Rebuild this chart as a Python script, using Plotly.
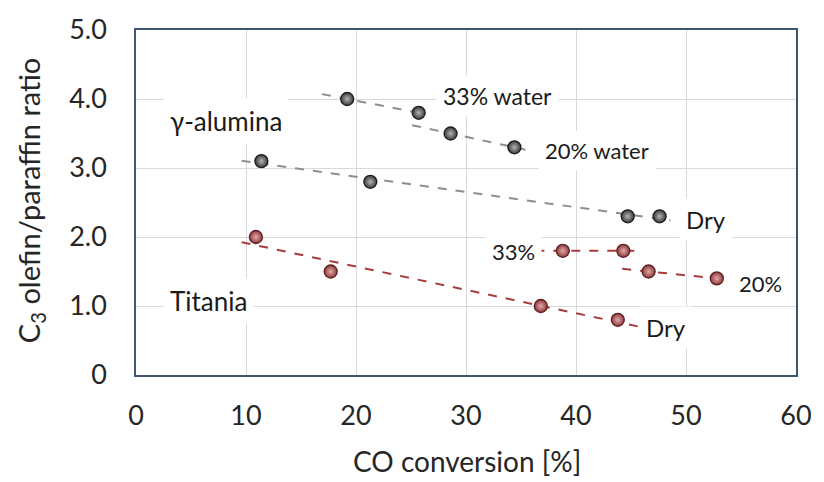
import numpy as np
import plotly.graph_objects as go

# ---- data ----
alu33_x = [19.2, 25.7]
alu33_y = [4.0, 3.8]
alu20_x = [28.6, 34.4]
alu20_y = [3.5, 3.3]
aludry_x = [11.4, 21.3, 44.7, 47.6]
aludry_y = [3.1, 2.8, 2.3, 2.3]
tidry_x = [10.9, 17.7, 36.8, 43.8]
tidry_y = [2.0, 1.5, 1.0, 0.8]
ti33_x = [38.8, 44.3]
ti33_y = [1.8, 1.8]
ti20_x = [46.6, 52.8]
ti20_y = [1.5, 1.4]

# trendline x-extents for each series
alu33_trend = [16.9, 26.4]
alu20_trend = [25.1, 35.4]
aludry_trend = [9.6, 48.6]
tidry_trend = [9.6, 46.2]
ti33_trend = [36.3, 46.0]
ti20_trend = [44.2, 53.8]

x_ticks = [0, 10, 20, 30, 40, 50, 60]
y_ticks = [0, 1, 2, 3, 4, 5]
y_ticklabels = ["0", "1.0", "2.0", "3.0", "4.0", "5.0"]

FONT = "Lato, 'Open Sans', sans-serif"
GRAY_LINE = "#8e8e8e"
RED_LINE = "#a83c3c"

fig = go.Figure()

def add_series(xs, ys, ext, kind):
    if kind == "gray":
        lc, mc, gc, oc = GRAY_LINE, "#3a3a3a", "#b4b4b4", "#1e1e1e"
    else:
        lc, mc, gc, oc = RED_LINE, "#8c3a3a", "#e6a8a8", "#5a2020"
    k, b = np.polyfit(xs, ys, 1)
    tx = np.array(ext)
    fig.add_trace(go.Scatter(x=tx, y=k * tx + b, mode="lines",
                             line=dict(color=lc, width=2, dash="dash"),
                             hoverinfo="skip", showlegend=False))
    fig.add_trace(go.Scatter(x=xs, y=ys, mode="markers",
                             marker=dict(size=13, color=mc,
                                         gradient=dict(type="radial", color=gc),
                                         line=dict(color=oc, width=1.3)),
                             showlegend=False))

add_series(aludry_x, aludry_y, aludry_trend, "gray")
add_series(alu33_x, alu33_y, alu33_trend, "gray")
add_series(alu20_x, alu20_y, alu20_trend, "gray")
add_series(tidry_x, tidry_y, tidry_trend, "red")
add_series(ti33_x, ti33_y, ti33_trend, "red")
add_series(ti20_x, ti20_y, ti20_trend, "red")

labels = [
    ("33% water", 32.9, 4.04, 23),
    ("20% water", 41.9, 3.25, 22),
    ("γ-alumina", 8.2, 3.68, 26),
    ("Dry", 51.8, 2.26, 24),
    ("33%", 34.3, 1.79, 22),
    ("20%", 56.8, 1.32, 22),
    ("Titania", 6.6, 1.07, 26),
    ("Dry", 48.2, 0.69, 24),
]
for txt, x, y, fs in labels:
    fig.add_annotation(x=x, y=y, text=txt, showarrow=False,
                       font=dict(family=FONT, size=fs, color="#1a1a1a"),
                       bgcolor="white", borderpad=6)

fig.add_annotation(xref="paper", yref="paper", x=-0.16, y=0.505,
                   text="C<sub>3</sub> olefin/paraffin ratio", textangle=-90,
                   showarrow=False, xanchor="center", yanchor="middle",
                   font=dict(family=FONT, size=29, color="#262626"))
fig.add_annotation(xref="paper", yref="paper", x=0.502, y=-0.25,
                   text="CO conversion [%]", showarrow=False,
                   xanchor="center", yanchor="middle",
                   font=dict(family=FONT, size=28, color="#262626"))

fig.update_xaxes(range=[0, 60], tickvals=x_ticks, showgrid=True,
                 gridcolor="#d9d9d9", gridwidth=1, zeroline=False,
                 ticks="outside", ticklen=16, tickcolor="rgba(0,0,0,0)",
                 tickfont=dict(family=FONT, size=27, color="#262626"),
                 showline=True, linecolor="#3e5672", linewidth=1.5, mirror=True)
fig.update_yaxes(range=[0, 5], tickvals=y_ticks, ticktext=y_ticklabels,
                 showgrid=True, gridcolor="#d9d9d9", gridwidth=1, zeroline=False,
                 ticks="outside", ticklen=22, tickcolor="rgba(0,0,0,0)",
                 tickfont=dict(family=FONT, size=27, color="#262626"),
                 showline=True, linecolor="#3e5672", linewidth=1.5, mirror=True)

fig.update_layout(width=824, height=482, plot_bgcolor="white", paper_bgcolor="white",
                  margin=dict(l=136, r=16, t=25, b=107), showlegend=False)

fig.write_html("out.html")
